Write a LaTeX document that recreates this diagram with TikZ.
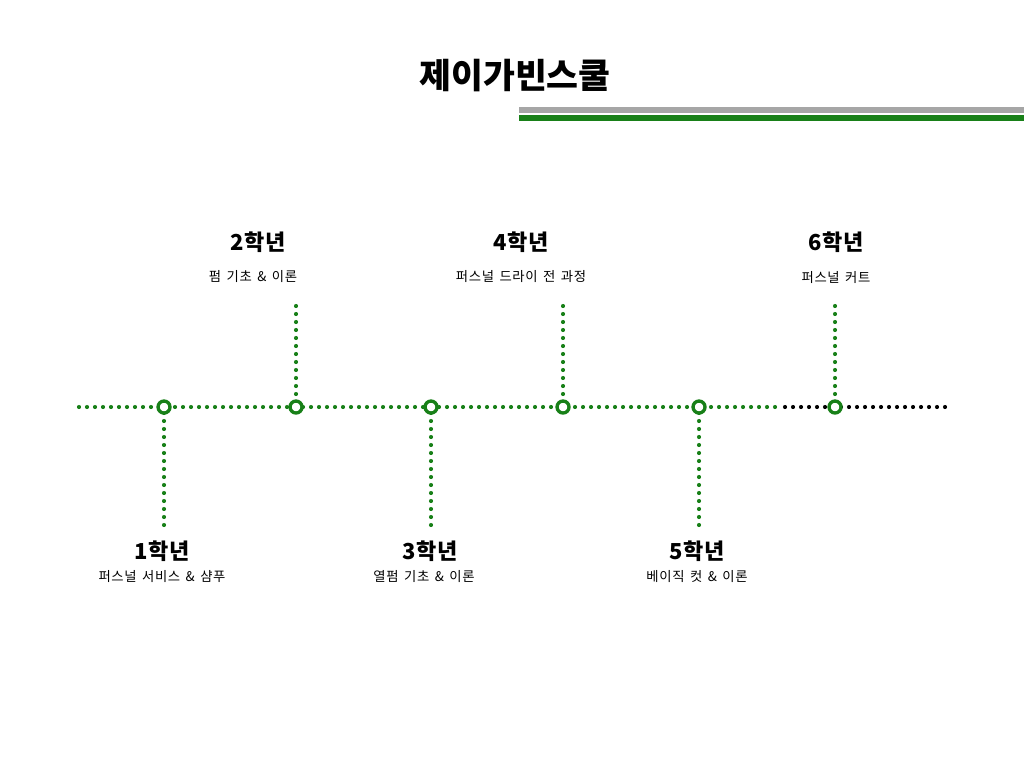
\documentclass[tikz,border=0pt]{standalone}
\usepackage{fontspec}
\setmainfont{Noto Sans CJK KR}
\newfontfamily\subfont{Noto Sans CJK KR}[LetterSpace=5, WordSpace=1.5]
\newfontfamily\yearfont{Noto Sans CJK KR}[LetterSpace=3]
\usepackage{tikz}
\definecolor{jgreen}{RGB}{24,128,24}
\definecolor{jgray}{RGB}{166,166,166}
\begin{document}
\begin{tikzpicture}[x=0.75pt, y=-0.75pt,
	dotline/.style = {line width=3.1pt, line cap=round, dash pattern=on 0pt off 6pt},
	yeardot/.style = {circle, draw=jgreen, line width=2.5pt, fill=white,
		minimum size=9pt, inner sep=0pt},
	yearlabel/.style = {font=\yearfont\fontsize{16.5}{18}\selectfont\bfseries},
	sublabel/.style = {font=\subfont\fontsize{10}{11}\selectfont}]
	\useasboundingbox (0,0) rectangle (1024,768);
	\node[font=\fontsize{26}{28}\selectfont\bfseries] (title) at (515,76) {제이가빈스쿨};
	\fill[jgray] (519,107) rectangle (1024,113);
	\fill[jgreen] (519,115) rectangle (1024,121);
	\coordinate (lstart) at (79,407);
	\coordinate (gend) at (777,407);
	\coordinate (kstart) at (785,407);
	\coordinate (lend) at (945,407);
	\coordinate (v1) at (164,525);
	\coordinate (v2) at (296,306);
	\coordinate (v3) at (431,525);
	\coordinate (v4) at (563,306);
	\coordinate (v5) at (699,525);
	\coordinate (v6) at (835,306);
	\draw[dotline, jgreen] (lstart) -- (gend);
	\draw[dotline, black] (kstart) -- (lend);
	\foreach \i in {1,...,6}
		\draw[dotline, jgreen] (v\i) -- (v\i |- lstart);
	\node[yeardot] (y1) at (164,407) {};
	\node[yeardot] (y2) at (296,407) {};
	\node[yeardot] (y3) at (431,407) {};
	\node[yeardot] (y4) at (563,407) {};
	\node[yeardot] (y5) at (699,407) {};
	\node[yeardot] (y6) at (835,407) {};
	\node[yearlabel] (t1) at (162,551) {1학년};
	\node[sublabel] (s1) at (162,577) {퍼스널 서비스 \& 샴푸};
	\node[yearlabel] (t2) at (258,242) {2학년};
	\node[sublabel] (s2) at (253,277) {펌 기초 \& 이론};
	\node[yearlabel] (t3) at (430,551) {3학년};
	\node[sublabel] (s3) at (424,577) {열펌 기초 \& 이론};
	\node[yearlabel] (t4) at (521,242) {4학년};
	\node[sublabel] (s4) at (521,277) {퍼스널 드라이 전 과정};
	\node[yearlabel] (t5) at (697,551) {5학년};
	\node[sublabel] (s5) at (697,577) {베이직 컷 \& 이론};
	\node[yearlabel] (t6) at (836,242) {6학년};
	\node[sublabel] (s6) at (836,277) {퍼스널 커트};
\end{tikzpicture}
\end{document}
